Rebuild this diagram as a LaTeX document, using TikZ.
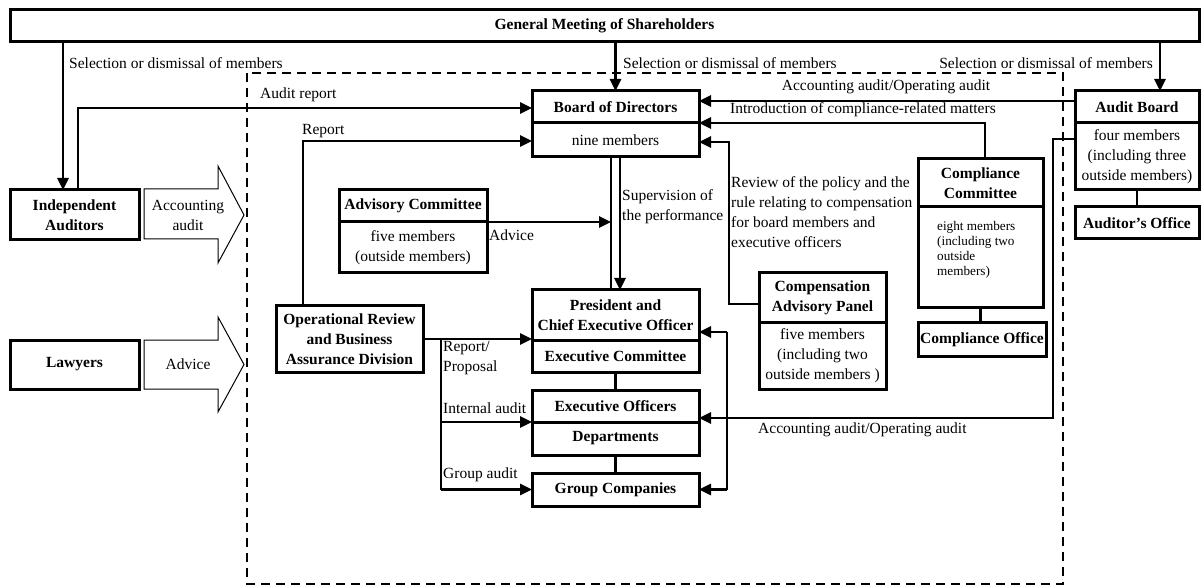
\documentclass[tikz,border=0pt]{standalone}
\usepackage{fontspec}
\setmainfont{Liberation Serif}
\usetikzlibrary{arrows.meta,positioning,calc}
\newcommand{\txtsize}{\fontsize{15.5}{20}\selectfont}
\newcommand{\smallsize}{\fontsize{13.2}{15}\selectfont}
\tikzstyle{head}=[draw,line width=3pt,outer sep=0pt,inner sep=1pt,align=center,font=\txtsize\bfseries]
\tikzstyle{body}=[draw,line width=3pt,outer sep=0pt,inner sep=1pt,align=center,font=\txtsize]
\tikzstyle{lbl}=[inner sep=0pt,align=left,font=\txtsize]
\tikzstyle{conn}=[line width=2.8pt]
\tikzstyle{arr}=[line width=2.8pt,-{Triangle[length=12pt,width=11pt]}]
\tikzstyle{hollow}=[draw,line width=1pt]

\begin{document}
\begin{tikzpicture}[x=1pt,y=-1pt]
\useasboundingbox (0,0) rectangle (1203,588);
% company boundary
\draw[line width=2.8pt,dash pattern=on 9pt off 6pt] (247,73) rectangle (1063,584);

\node [head,minimum width=1189pt,minimum height=32pt] (gms) at (604.5,26) {General Meeting of Shareholders};

\node [head,minimum width=167pt,minimum height=32pt] (bod) at (615.5,107) {Board of Directors};
\node [body,minimum width=167pt,minimum height=34pt,below=0pt of bod] (bodm) {nine members};

\node [head,minimum width=124pt,minimum height=32pt] (audb) at (1137,107) {Audit Board};
\node [body,minimum width=124pt,minimum height=67pt,below=0pt of audb] (audbm) {four members\\(including three\\outside members)};
\node [head,minimum width=124pt,minimum height=32pt] (audo) at (1137,223) {Auditor's Office};

\node [head,minimum width=125pt,minimum height=48pt] (cc) at (980.5,183) {Compliance\\Committee};
\node [body,minimum width=125pt,minimum height=101pt,below=0pt of cc] (ccm) {};
\node [lbl,font=\smallsize,anchor=north west] (cctxt) at (937,221) {eight members\\(including two\\outside\\members)};
\node [head,minimum width=128pt,minimum height=33pt] (cco) at (982,339.5) {Compliance Office};

\node [head,minimum width=127pt,minimum height=50pt] (cap) at (822.5,298) {Compensation\\Advisory Panel};
\node [body,minimum width=127pt,minimum height=66pt,below=0pt of cap] (capm) {five members\\(including two\\outside members )};

\node [head,minimum width=148pt,minimum height=32pt] (adv) at (413,206) {Advisory Committee};
\node [body,minimum width=148pt,minimum height=51pt,below=0pt of adv] (advm) {five members\\(outside members)};

\node [head,minimum width=167pt,minimum height=50pt] (ceo) at (615.5,315) {President and\\Chief Executive Officer};
\node [head,minimum width=167pt,minimum height=32pt,below=0pt of ceo] (exc) {Executive Committee};
\node [head,minimum width=167pt,minimum height=32pt] (exo) at (615.5,406) {Executive Officers};
\node [head,minimum width=167pt,minimum height=33pt,below=0pt of exo] (dep) {Departments};
\node [head,minimum width=167pt,minimum height=33pt] (grp) at (615.5,489.5) {Group Companies};

\node [head,minimum width=147pt,minimum height=66pt] (orb) at (349.5,339) {Operational Review\\and Business\\Assurance Division};

\node [head,minimum width=129pt,minimum height=50pt] (ind) at (74.5,215) {Independent\\Auditors};
\node [head,minimum width=129pt,minimum height=49pt] (law) at (74.5,364.5) {Lawyers};

% hollow arrows
\draw[hollow] (144,189) -- (218,189) -- (218,166) -- (244,215) -- (218,263) -- (218,239) -- (144,239) -- cycle;
\node [lbl,align=center] (acc) at (188,215) {Accounting\\audit};
\draw[hollow] (144,340) -- (218,340) -- (218,317) -- (244,364.5) -- (218,412) -- (218,389) -- (144,389) -- cycle;
\node [lbl,align=center] (adl) at (188,364.5) {Advice};

% selection or dismissal
\coordinate (sa) at (63,190);
\coordinate (sb) at (1160,91);
\draw[arr] (sa |- gms.south) -- (sa);
\draw[arr] (bod.north |- gms.south) -- (bod.north);
\draw[arr] (sb |- gms.south) -- (sb);
\node [lbl,anchor=west] (sel1) at (69,63) {Selection or dismissal of members};
\node [lbl,anchor=west] (sel2) at (623,63) {Selection or dismissal of members};
\node [lbl,anchor=east] (sel3) at (1153,63) {Selection or dismissal of members};

% reports to the board
\coordinate (ra) at (78,108);
\coordinate (rb) at (303,141);
\draw[arr] (ra |- ind.north) -- (ra) -- (ra -| bod.west);
\draw[arr] (rb |- orb.north) -- (rb) -- (rb -| bod.west);
\node [lbl,anchor=west] (audrep) at (260,95) {Audit report};
\node [lbl,anchor=west] (rep) at (302,131) {Report};

\coordinate (aa) at (0,101);
\draw[arr] (audb.west |- aa) -- (bod.east |- aa);
\node [lbl] (aclbl) at (886,87) {Accounting audit/Operating audit};

\coordinate (ci) at (985,123);
\draw[arr] (ci |- cc.north) -- (ci) -- (ci -| bod.east);
\node [lbl,anchor=west] (intro) at (730,110) {Introduction of compliance-related matters};

\coordinate (rv) at (729,142);
\coordinate (rv2) at (729,304);
\draw[arr] (cap.west |- rv2) -- (rv2) -- (rv) -- (rv -| bod.east);
\node [lbl,anchor=west] (review) at (731,212) {Review of the policy and the\\rule relating to compensation\\for board members and\\executive officers};

% supervision and advice
\coordinate (sv1) at (611,0);
\coordinate (sv2) at (620,0);
\draw[line width=1.8pt] (sv1 |- bodm.south) -- (sv1 |- ceo.north);
\draw[arr] (sv2 |- bodm.south) -- (sv2 |- ceo.north);
\node [lbl,anchor=west] (sup) at (622,207) {Supervision of\\the performance};
\draw[arr] (advm.north east) -- (advm.north east -| sv1);
\node [lbl,anchor=west] (advlbl) at (489,235) {Advice};

% internal audit
\coordinate (rp) at (441,339);
\draw[arr] (orb.east |- rp) -- (rp -| ceo.west);
\draw[conn] (rp) -- (rp |- grp.west);
\draw[arr] (rp |- exo.south west) -- (exo.south west);
\draw[arr] (rp |- grp.west) -- (grp.west);
\node [lbl,anchor=west] (rplbl) at (443,358) {Report/\\Proposal};
\node [lbl,anchor=west] (inlbl) at (443,408) {Internal audit};
\node [lbl,anchor=west] (grlbl) at (443,475) {Group audit};

% links between boxes
\draw[conn] (exc.south) -- (exo.north);
\draw[conn] (dep.south) -- (grp.north);
\draw[conn] (ccm.south) -- (ccm.south |- cco.north);
\draw[conn] (audbm.south) -- (audbm.south |- audo.north);

% audit board to executives
\coordinate (ab1) at (1053,139);
\coordinate (ab2) at (1053,418);
\coordinate (ab3) at (727,332);
\coordinate (ab4) at (727,489.5);
\draw[arr] (audbm.west |- ab1) -- (ab1) -- (ab2) -- (ab2 -| exo.east);
\draw[conn] (ab3) -- (ab4);
\draw[arr] (ab3) -- (ab3 -| ceo.east);
\draw[arr] (ab4) -- (grp.east);
\node [lbl,anchor=west] (ablbl) at (758,430) {Accounting audit/Operating audit};
\end{tikzpicture}
\end{document}
